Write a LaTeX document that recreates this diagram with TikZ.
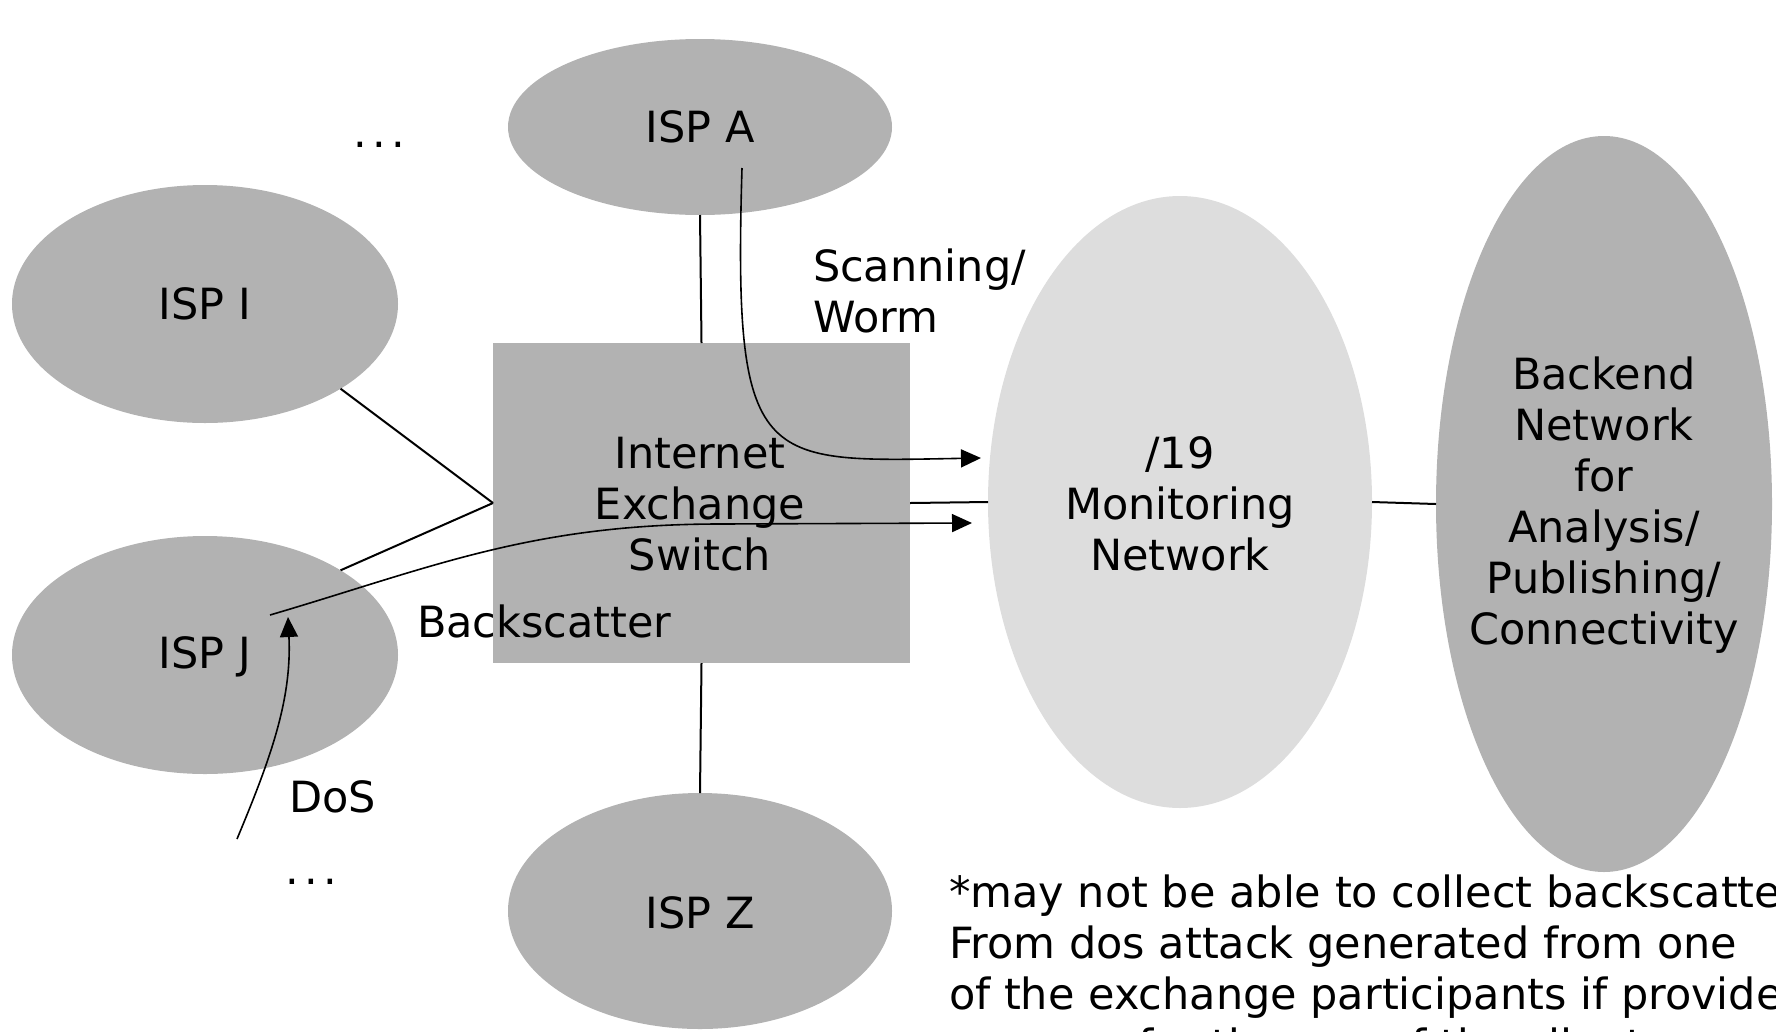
\documentclass[tikz,border=0pt]{standalone}
\usepackage{fontspec}
\setmainfont{DejaVu Sans}
\usetikzlibrary{shapes.geometric,arrows.meta}
\definecolor{ispgray}{HTML}{B2B2B2}
\definecolor{mongray}{HTML}{DDDDDD}
\newcommand{\spreaddots}{.\kern5.5pt.\kern5.5pt.}
\begin{document}
\begin{tikzpicture}[x=1pt,y=-1pt,
  every node/.style={font=\fontsize{43}{51}\selectfont, inner sep=0pt, outer sep=0pt},
  ispsmall/.style={ellipse, fill=ispgray, minimum width=384pt, minimum height=176pt},
  ispbig/.style={ellipse, fill=ispgray, minimum width=386pt, minimum height=238pt},
  plain/.style={line width=2pt},
  flow/.style={line width=1.6pt, -{Triangle[length=20pt,width=18pt]}},
  lbl/.style={align=center}
]
\useasboundingbox (0,0) rectangle (1776,1031);
\clip (0,0) rectangle (1776,1031);

% shapes
\node[ispsmall] (ispA) at (700,127) {};
\node[ellipse, fill=ispgray, minimum width=384pt, minimum height=236pt] (ispZ) at (700,911) {};
\node[ispbig] (ispI) at (205,304) {};
\node[ispbig] (ispJ) at (205,655) {};
\node[fill=ispgray, minimum width=417pt, minimum height=320pt] (ix) at (701.5,503) {};
\node[ellipse, fill=mongray, minimum width=384pt, minimum height=612pt] (mon) at (1180,502) {};
\node[ellipse, fill=ispgray, minimum width=336pt, minimum height=736pt] (be) at (1604,504) {};

% labels
\node[lbl] (tA) at (ispA.center) {ISP A};
\node[lbl] (tZ) at (700,913) {ISP Z};
\node[lbl] (tI) at (ispI.center) {ISP I};
\node[lbl] (tJ) at (205,657) {ISP J};
\node[lbl] (tix) at (700,504) {Internet\\Exchange\\Switch};
\node[lbl] (tmon) at (1180,504) {/19\\Monitoring\\Network};
\node[lbl] (tbe) at (1604,505) {Backend\\Network\\for\\Analysis/\\Publishing/\\Connectivity};
\node[anchor=base] (dots1) at (379,147) {\spreaddots};
\node[anchor=base] (dots2) at (311,884) {\spreaddots};
\node[anchor=west, align=left] (tscan) at (813,291) {Scanning/\\Worm};
\node[anchor=west] (tback) at (417,621) {Backscatter};
\node[anchor=west] (tdos) at (289,797) {DoS};
\node[anchor=north west, align=left] (note) at (949,875) {*may not be able to collect backscatter\\From dos attack generated from one\\of the exchange participants if provided\\a server for the use of the clients};

% connectors
\draw[plain] (ispA.south) -- (ix.north);
\draw[plain] (ix.south) -- (ispZ.north);
\draw[plain] (ispI.-32) -- (ix.west);
\draw[plain] (ispJ.32) -- (ix.west);
\draw[plain] (ix.east) -- (mon.west);
\draw[plain] (mon.east) -- (be.west);

% flows
\coordinate (scanS) at (742,168);
\coordinate (scanE) at (981,458);
\coordinate (backS) at (270,615);
\coordinate (backM) at (720,524);
\coordinate (backE) at (972,523);
\coordinate (dosS) at (237,839);
\coordinate (dosE) at (288,617);
\draw[flow] (scanS) .. controls (733,470) and (760,462) .. (scanE);
\draw[flow] (backS) .. controls (430,568) and (530,524) .. (backM) -- (backE);
\draw[flow] (dosS) .. controls (270,760) and (292,700) .. (dosE);
\end{tikzpicture}
\end{document}
